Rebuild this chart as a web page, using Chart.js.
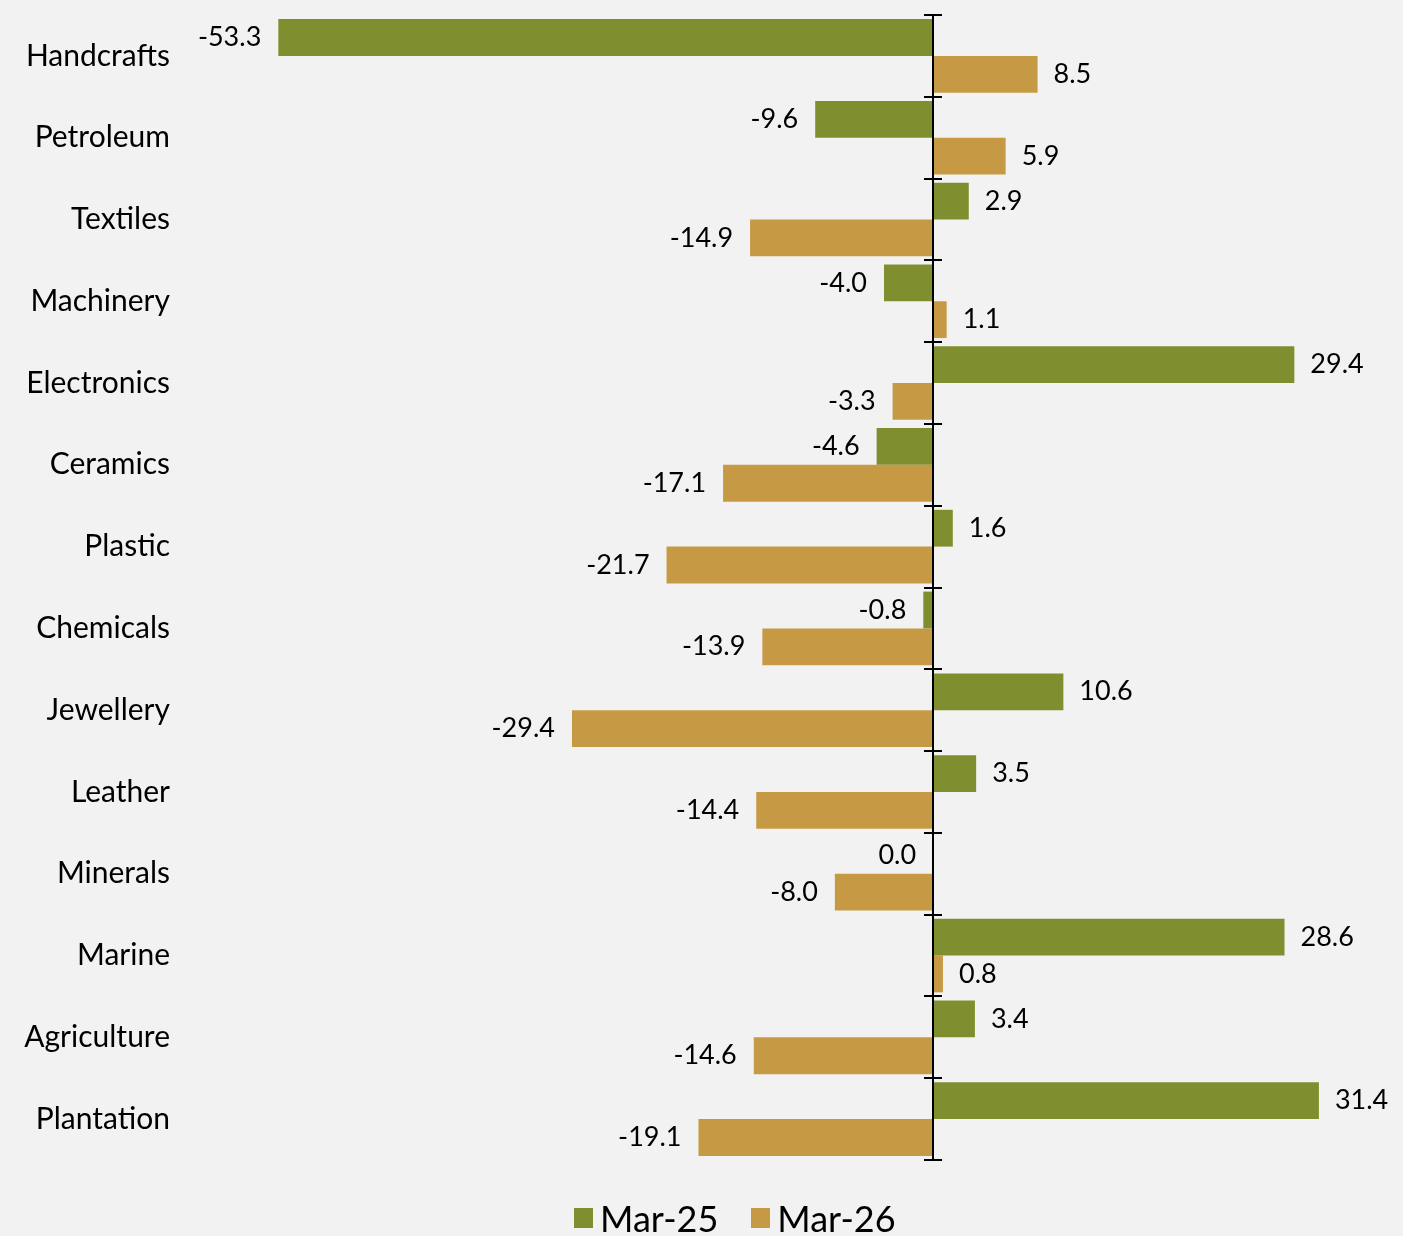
<!DOCTYPE html>
<html>
<head>
<meta charset="utf-8">
<script src="https://cdn.jsdelivr.net/npm/chart.js@4.4.1/dist/chart.umd.min.js"></script>
<style>
  html, body { margin:0; padding:0; background:#f2f2f2; }
  #wrap { width:1403px; height:1236px; position:relative; }
  #legend { position:absolute; left:574px; top:1196px; display:flex; align-items:center;
            font-family:Lato, "Noto Sans", sans-serif; font-size:36px; color:#000; line-height:44px; }
  #legend .item { display:flex; align-items:center; margin-right:33px; }
  #legend .box { width:19px; height:20px; margin-right:7px; }
</style>
</head>
<body>
<div id="wrap"><canvas id="c"></canvas><div id="legend"></div></div>
<script>
// categories, top to bottom
const categories = ['Handcrafts','Petroleum','Textiles','Machinery','Electronics','Ceramics','Plastic',
  'Chemicals','Jewellery','Leather','Minerals','Marine','Agriculture','Plantation'];
const mar25 = [-53.3,-9.6,2.9,-4.0,29.4,-4.6,1.6,-0.8,10.6,3.5,0.0,28.6,3.4,31.4];
const mar26 = [8.5,5.9,-14.9,1.1,-3.3,-17.1,-21.7,-13.9,-29.4,-14.4,-8.0,0.8,-14.6,-19.1];
const seriesNames = ['Mar-25','Mar-26'];
const colors = ['#7f8f2f','#c69a45'];

const FONT = 'Lato, "Noto Sans", sans-serif';

// zero line + tick marks between categories, and the value labels
const decor = {
  id:'decor',
  afterDatasetsDraw(chart){
    const ctx = chart.ctx, xs = chart.scales.x;
    const x0 = Math.round(xs.getPixelForValue(0));
    const top = chart.chartArea.top, bot = chart.chartArea.bottom;
    ctx.save();
    ctx.strokeStyle = '#000';
    ctx.lineWidth = 2;
    ctx.beginPath();
    ctx.moveTo(x0, top); ctx.lineTo(x0, bot);
    const step = (bot - top) / categories.length;
    for (let i = 0; i <= categories.length; i++) {
      const y = Math.round(top + i*step);
      ctx.moveTo(x0-9, y); ctx.lineTo(x0+9, y);
    }
    ctx.stroke();

    ctx.fillStyle = '#000';
    ctx.font = '27px ' + FONT;
    ctx.textBaseline = 'middle';
    chart.data.datasets.forEach((ds, di) => {
      chart.getDatasetMeta(di).data.forEach((bar, i) => {
        const v = ds.data[i];
        const txt = v.toFixed(1);
        if (v > 0) {
          ctx.textAlign = 'left';
          ctx.fillText(txt, bar.x + 16, bar.y);
        } else {
          ctx.textAlign = 'right';
          ctx.fillText(txt, bar.x - 17, bar.y);
        }
      });
    });
    ctx.restore();
  }
};

new Chart(document.getElementById('c'), {
  type:'bar',
  data:{
    labels: categories,
    datasets:[
      { label: seriesNames[0], data: mar25, backgroundColor: colors[0] },
      { label: seriesNames[1], data: mar26, backgroundColor: colors[1] }
    ]
  },
  options:{
    indexAxis:'y',
    responsive:true,
    maintainAspectRatio:false,
    animation:false,
    categoryPercentage:0.9,
    barPercentage:1.0,
    layout:{ padding:{ top:15, right:3, bottom:76, left:0 } },
    scales:{
      x:{ display:false, min:-60, max:38 },
      y:{
        grid:{ drawOnChartArea:false, color:'transparent', tickLength:26 },
        border:{ display:false },
        ticks:{ color:'#000', font:{ size:30, family:FONT, lineHeight:1 }, padding:0 },
        afterFit(s){ s.width = 196; }
      }
    },
    plugins:{
      legend:{ display:false },
      tooltip:{ enabled:false }
    }
  },
  plugins:[decor]
});

// legend
const lg = document.getElementById('legend');
seriesNames.forEach((n, i) => {
  const it = document.createElement('div');
  it.className = 'item';
  it.innerHTML = `<span class="box" style="background:${colors[i]}"></span><span>${n}</span>`;
  lg.appendChild(it);
});
</script>
</body>
</html>
